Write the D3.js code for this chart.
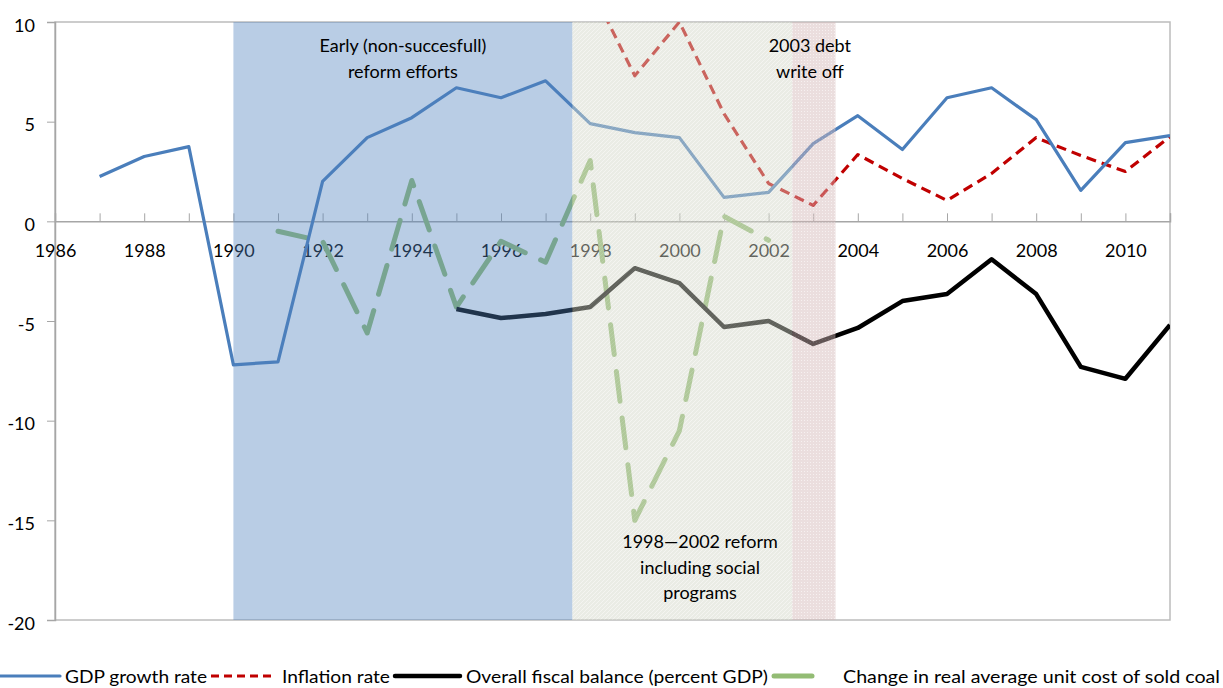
<!DOCTYPE html>
<html>
<head>
<meta charset="utf-8">
<script src="https://cdn.jsdelivr.net/npm/d3@7"></script>
<style>
  body { margin: 0; background: #fff; }
  svg { display: block; font-family: Lato, "Open Sans", sans-serif; }
</style>
</head>
<body>
<svg id="chart" width="1223" height="688"></svg>
<script>
// values
const gdpYears = d3.range(1987, 2012);
const gdpGrowth = [2.25, 3.25, 3.75, -7.2, -7.05, 2.0, 4.2, 5.2, 6.7, 6.2, 7.05, 4.9, 4.45,
  4.2, 1.2, 1.45, 3.9, 5.3, 3.6, 6.2, 6.7, 5.1, 1.55, 3.95, 4.3];

const inflYears = d3.range(1998, 2012);
const inflation = [11.8, 7.3, 10.0, 5.4, 1.9, 0.8, 3.35, 2.15, 1.05, 2.4, 4.2, 3.3, 2.5, 4.25];

const fiscalYears = d3.range(1995, 2012);
const fiscalBalance = [-4.4, -4.85, -4.65, -4.3, -2.35, -3.1, -5.3, -5.0, -6.15, -5.35, -4.0,
  -3.65, -1.9, -3.65, -7.3, -7.9, -5.2];

const coalYears = d3.range(1991, 2003);
const coalCost = [-0.5, -1.0, -5.6, 2.05, -4.3, -1.0, -2.05, 3.05, -15.0, -10.5, 0.25, -0.95];

const xTickYears = d3.range(1986, 2012);
const yTicks = [10, 5, 0, -5, -10, -15, -20];

const periods = [
  {from: 1990, to: 1997.6, cls: "early", lines: ["Early (non-succesfull)", "reform efforts"], textAt: "top"},
  {from: 1997.6, to: 2002.53, cls: "reform", lines: ["1998\u20142002 reform", "including social", "programs"], textAt: "bottom"},
  {from: 2002.53, to: 2003.5, cls: "debt", lines: ["2003 debt", "write off"], textAt: "top"}
];

const legendNames = ["GDP growth rate", "Inflation rate", "Overall fiscal balance (percent GDP)",
  "Change in real average unit cost of sold coal"];

const svg = d3.select("#chart");
const pLeft = 55, pRight = 1170, pTop = 22, pBottom = 620;

const x = d3.scaleLinear().domain([1986, 2011]).range([pLeft, pRight]);
const y = d3.scaleLinear().domain([-20, 10]).range([pBottom, pTop]);

const defs = svg.append("defs");
defs.append("clipPath").attr("id", "plotclip")
  .append("rect").attr("x", pLeft).attr("y", pTop).attr("width", pRight - pLeft).attr("height", pBottom - pTop);

// fine textures for the two shaded periods
const hatch = defs.append("pattern").attr("id", "hatch").attr("patternUnits", "userSpaceOnUse")
  .attr("width", 4).attr("height", 4);
hatch.append("rect").attr("width", 4).attr("height", 4).attr("fill", "rgb(209,213,198)");
hatch.append("path").attr("d", "M0,4 L4,0").attr("stroke", "rgba(255,255,255,0.45)").attr("stroke-width", 1);

const dots = defs.append("pattern").attr("id", "dots").attr("patternUnits", "userSpaceOnUse")
  .attr("width", 3).attr("height", 3);
dots.append("rect").attr("width", 3).attr("height", 3).attr("fill", "rgb(211,183,183)");
dots.append("rect").attr("width", 1).attr("height", 1).attr("fill", "rgba(255,255,255,0.55)");

// plot frame
svg.append("rect")
  .attr("x", pLeft).attr("y", pTop).attr("width", pRight - pLeft).attr("height", pBottom - pTop)
  .attr("fill", "none").attr("stroke", "#bcbcbc").attr("stroke-width", 1.5);

// y axis (plain hyphen minus, like the original)
const yAxis = svg.append("g")
  .attr("transform", `translate(${pLeft},0)`)
  .call(d3.axisLeft(y).tickValues(yTicks).tickSize(8).tickPadding(12).tickFormat(d => String(d)));
yAxis.select(".domain").attr("stroke", "#a6a6a6").attr("stroke-width", 1.5);
yAxis.selectAll(".tick line").attr("stroke", "#a6a6a6");
yAxis.selectAll(".tick text").attr("font-size", 18).attr("fill", "#000").attr("dy", "0.5em")
  .attr("font-family", "Lato, sans-serif");

// x axis at zero, ticks pointing up
const xAxis = svg.append("g")
  .attr("transform", `translate(0,${y(0)})`)
  .call(d3.axisBottom(x).tickValues(xTickYears).tickSize(-8).tickPadding(23)
    .tickFormat(d => d % 2 === 0 ? d : ""));
xAxis.select(".domain").attr("stroke", "#a6a6a6").attr("stroke-width", 1.5);
xAxis.selectAll(".tick line").attr("stroke", "#a6a6a6");
xAxis.selectAll(".tick text").attr("font-size", 18).attr("fill", "#000")
  .attr("font-family", "Lato, sans-serif");

// series
const plot = svg.append("g").attr("clip-path", "url(#plotclip)");

function drawSeries(years, vals, color, width, dash, cap) {
  const line = d3.line().x((d, i) => x(years[i])).y(d => y(d));
  plot.append("path")
    .datum(vals)
    .attr("d", line)
    .attr("fill", "none")
    .attr("stroke", color)
    .attr("stroke-width", width)
    .attr("stroke-linejoin", "round")
    .attr("stroke-linecap", cap || "butt")
    .attr("stroke-dasharray", dash || null);
}

drawSeries(coalYears, coalCost, "#93bc74", 5, "30,17", "round");
drawSeries(fiscalYears, fiscalBalance, "#000", 4.5);
drawSeries(inflYears, inflation, "#c00000", 3.2, "10,6");
drawSeries(gdpYears, gdpGrowth, "#4a7ebb", 3.2);

// translucent period overlays (drawn on top, like the original)
const fills = {early: "rgb(79,129,189)", reform: "url(#hatch)", debt: "url(#dots)"};
const opac = {early: 0.4, reform: 0.46, debt: 0.46};
svg.append("g").selectAll("rect")
  .data(periods)
  .join("rect")
  .attr("x", d => x(d.from))
  .attr("width", d => x(d.to) - x(d.from))
  .attr("y", pTop)
  .attr("height", pBottom - pTop)
  .attr("fill", d => fills[d.cls])
  .attr("opacity", d => opac[d.cls]);

// period notes
const notes = svg.append("g").attr("font-size", 18).attr("fill", "#000").attr("text-anchor", "middle");
periods.forEach(p => {
  const cx = p.cls === "reform" ? 700 : (x(p.from) + x(p.to)) / 2 + (p.cls === "debt" ? -4 : 0);
  const base = p.textAt === "top" ? 52 : 548;
  p.lines.forEach((t, i) => {
    notes.append("text").attr("x", cx).attr("y", base + i * 25.5).text(t);
  });
});

// legend along the bottom
const legendItems = [
  {name: legendNames[0], color: "#4a7ebb", width: 3.2, dash: null, x0: 0, x1: 60, tx: 65, tw: 142},
  {name: legendNames[1], color: "#c00000", width: 3.2, dash: "8,5", x0: 211, x1: 276, tx: 282, tw: 108},
  {name: legendNames[2], color: "#000", width: 4.5, dash: null, x0: 395, x1: 460, tx: 466, tw: 302},
  {name: legendNames[3], color: "#93bc74", width: 5, dash: null, x0: 774, x1: 812, tx: 843, tw: 377}
];
const legend = svg.append("g");
legend.selectAll("line")
  .data(legendItems)
  .join("line")
  .attr("x1", d => d.x0).attr("x2", d => d.x1)
  .attr("y1", 676).attr("y2", 676)
  .attr("stroke", d => d.color)
  .attr("stroke-width", d => d.width)
  .attr("stroke-linecap", d => d.dash ? "butt" : "round")
  .attr("stroke-dasharray", d => d.dash);
legend.selectAll("text")
  .data(legendItems)
  .join("text")
  .attr("x", d => d.tx).attr("y", 683)
  .attr("font-size", 17)
  .attr("textLength", d => d.tw)
  .attr("lengthAdjust", "spacingAndGlyphs")
  .text(d => d.name);
</script>
</body>
</html>
